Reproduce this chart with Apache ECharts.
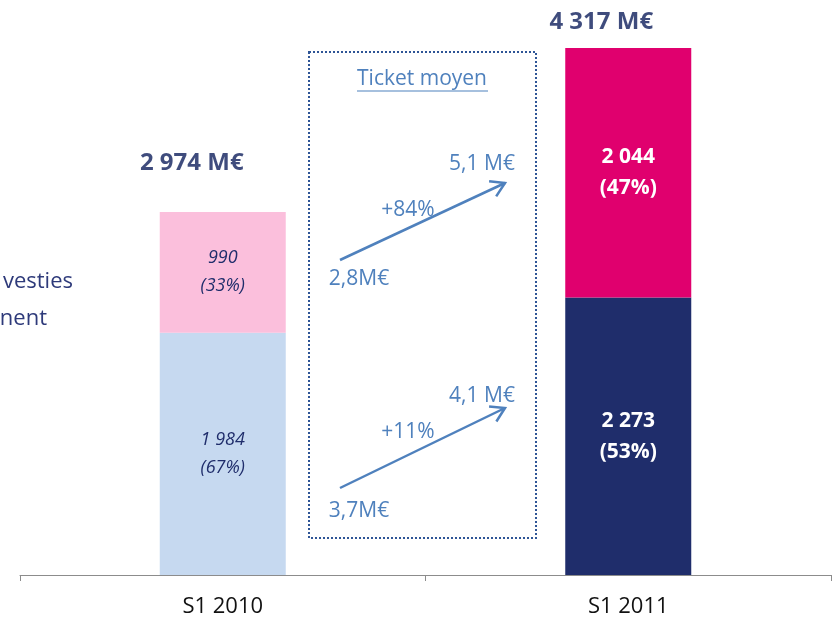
<!DOCTYPE html>
<html>
<head>
<meta charset="utf-8">
<script src="https://cdn.jsdelivr.net/npm/echarts@6/dist/echarts.min.js"></script>
<style>
  html, body { margin: 0; padding: 0; background: #fff; }
  #chart { width: 834px; height: 623px; }
</style>
</head>
<body>
<div id="chart"></div>
<script>
const categories = ["S1 2010", "S1 2011"];
const baseValues = [1984, 2273];
const topValues = [990, 2044];
const totals = [2974, 4317];
const baseShares = ["67%", "53%"];
const topShares = ["33%", "47%"];

const navy = "#1f2d6b";
const blue = "#4f81bd";
const font = "'Open Sans', Lato, sans-serif";

// format 2974 -> "2 974"
const fmt = v => String(v).replace(/\B(?=(\d{3})+(?!\d))/g, " ");

const baseColors = ["#c6d9f0", navy];
const topColors = ["#fbbfdc", "#e0006e"];

const segLabel = i => i === 0
  ? { color: navy, fontStyle: "italic", fontSize: 18, fontWeight: "normal", lineHeight: 28 }
  : { color: "#fff", fontStyle: "normal", fontSize: 21, fontWeight: "bold", lineHeight: 31 };

const makeSeg = (values, colors, shares) => values.map((v, i) => ({
  value: v,
  itemStyle: { color: colors[i] },
  label: Object.assign({ formatter: fmt(v) + "\n(" + shares[i] + ")" }, segLabel(i))
}));

const totalOffsets = [[-31, -49], [-27, -26]];

// arrow helper (annotation, pixel space)
function arrow(x1, y1, x2, y2) {
  const a = Math.atan2(y2 - y1, x2 - x1);
  const L = 16, s = 0.55;
  const p1 = [x2 - L * Math.cos(a - s), y2 - L * Math.sin(a - s)];
  const p2 = [x2 - L * Math.cos(a + s), y2 - L * Math.sin(a + s)];
  const st = { stroke: blue, lineWidth: 2.5 };
  return [
    { type: "line", shape: { x1, y1, x2, y2 }, style: st },
    { type: "polyline", shape: { points: [p1, [x2, y2], p2] }, style: st }
  ];
}
const txt = (x, y, text, size) => ({
  type: "text", x, y,
  style: { text, fill: blue, font: (size || 21) + "px " + font, textAlign: "center", textVerticalAlign: "middle" }
});

const chart = echarts.init(document.getElementById("chart"));
chart.setOption({
  animation: false,
  grid: { left: 20, right: 3, top: 48, bottom: 48 },
  xAxis: {
    type: "category",
    data: categories,
    axisLine: { lineStyle: { color: "#8c8c8c", width: 1 } },
    axisTick: { show: true, length: 6, lineStyle: { color: "#8c8c8c" } },
    axisLabel: { color: "#111", fontSize: 22, fontFamily: font, margin: 21 }
  },
  yAxis: { type: "value", min: 0, max: 4317, show: false, splitLine: { show: false } },
  series: [
    {
      type: "bar", stack: "t", barWidth: 126,
      data: makeSeg(baseValues, baseColors, baseShares),
      label: { show: true, position: "inside", fontFamily: font }
    },
    {
      type: "bar", stack: "t", barWidth: 126,
      data: makeSeg(topValues, topColors, topShares),
      label: { show: true, position: "inside", fontFamily: font }
    },
    {
      type: "scatter", symbolSize: 0, silent: true,
      data: totals.map((v, i) => ({ value: v, label: { offset: totalOffsets[i] } })),
      label: {
        show: true, position: "inside", color: "#0f1f5c", fontSize: 24, fontWeight: "bold", fontFamily: font,
        formatter: p => fmt(p.value) + " M€"
      }
    }
  ],
  graphic: [
    { type: "rect", shape: { x: 309, y: 52, width: 227, height: 486 },
      style: { fill: null, stroke: "#2e5596", lineWidth: 2, lineDash: [2, 2] } },
    txt(422, 79, "Ticket moyen", 21),
    { type: "line", shape: { x1: 357, y1: 91, x2: 488, y2: 91 }, style: { stroke: blue, lineWidth: 1.2 } },
    ...arrow(340, 260, 505, 183),
    txt(482, 164, "5,1 M€"),
    txt(408, 210, "+84%"),
    txt(359, 279, "2,8M€"),
    ...arrow(340, 488, 505, 408),
    txt(482, 396, "4,1 M€"),
    txt(408, 432, "+11%"),
    txt(359, 511, "3,7M€"),
    { type: "text", x: 73, y: 282, style: { text: "vesties", fill: "#2e3a7a", font: "22px " + font, textAlign: "right", textVerticalAlign: "middle" } },
    { type: "text", x: 47, y: 319, style: { text: "nent", fill: "#2e3a7a", font: "22px " + font, textAlign: "right", textVerticalAlign: "middle" } }
  ]
});
</script>
</body>
</html>
